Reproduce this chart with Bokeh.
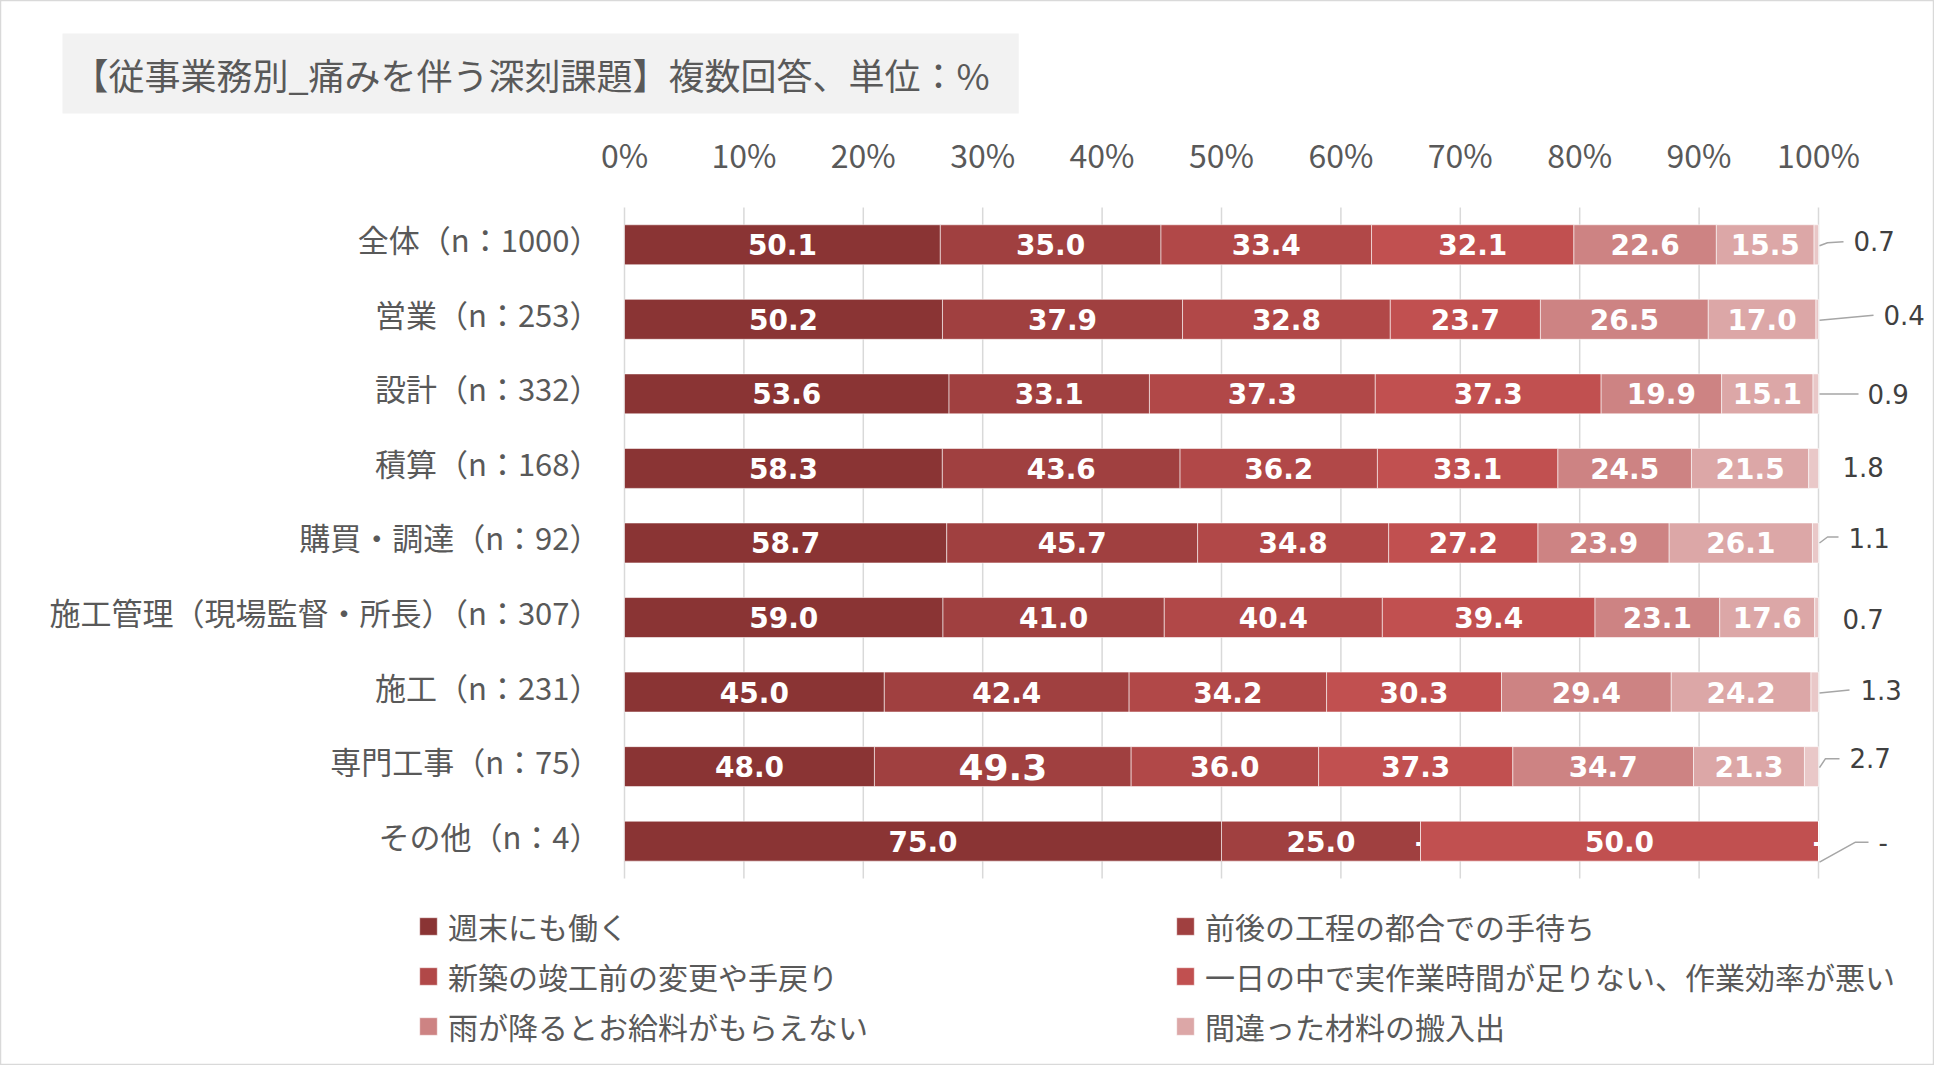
from bokeh.plotting import figure
from bokeh.models import (Range1d, Legend, LegendItem, Label, ColumnDataSource)
from bokeh.core.properties import value
from bokeh.embed import file_html
from bokeh.resources import INLINE

# ---------------- data ----------------
categories = ["全体（n：1000）", "営業（n：253）", "設計（n：332）", "積算（n：168）",
              "購買・調達（n：92）", "施工管理（現場監督・所長）（n：307）",
              "施工（n：231）", "専門工事（n：75）", "その他（n：4）"]
series_names = ["週末にも働く", "前後の工程の都合での手待ち", "新築の竣工前の変更や手戻り",
                "一日の中で実作業時間が足りない、作業効率が悪い",
                "雨が降るとお給料がもらえない", "間違った材料の搬入出", "その他"]
s1 = [50.1, 50.2, 53.6, 58.3, 58.7, 59.0, 45.0, 48.0, 75.0]
s2 = [35.0, 37.9, 33.1, 43.6, 45.7, 41.0, 42.4, 49.3, 25.0]
s3 = [33.4, 32.8, 37.3, 36.2, 34.8, 40.4, 34.2, 36.0, 0.0]
s4 = [32.1, 23.7, 37.3, 33.1, 27.2, 39.4, 30.3, 37.3, 50.0]
s5 = [22.6, 26.5, 19.9, 24.5, 23.9, 23.1, 29.4, 34.7, 0.0]
s6 = [15.5, 17.0, 15.1, 21.5, 26.1, 17.6, 24.2, 21.3, 0.0]
s7 = [0.7, 0.4, 0.9, 1.8, 1.1, 0.7, 1.3, 2.7, 0.0]
series = [s1, s2, s3, s4, s5, s6, s7]
x_ticks = [i / 10 for i in range(11)]
tick_labels = [f"{i * 10}%" for i in range(11)]
title_text = "【従事業務別_痛みを伴う深刻課題】複数回答、単位：%"

# ---------------- style ----------------
colors = ["#8A3434", "#A04040", "#B14848", "#C15050", "#CD8383", "#DCA7A7", "#E9C8C8"]
CJK = "Noto Sans CJK JP"
NUM = "DejaVu Sans"
GREY_TXT = "#595959"
big_labels = {(7, 1): "36px"}            # (row, series) label shown larger
out_dx = [35, 65, 49, 24, 30, 24, 42, 31, 60]   # px offsets of outside labels
out_dy = [-4, -4, 0, -1, -5, 1, -2, -9, 1]
leaders = [[(1, 1), (9, -2), (25, -3)], [(1, 1), (55, -4)], [(1, 0), (40, 0)], None,
           [(1, 0), (9, -6), (20, -6)], None, [(1, 1), (31, -2)],
           [(1, 1), (7, -8), (21, -8)], [(1, 21), (37, 1), (50, 1)]]

W, H = 1934, 1065
X0_PX = 624          # pixel of 0%
PX_UNIT = 1194       # pixels for 100%
Y0_PX = 207          # pixel of top of first row band
ROW_PX = 74.55       # pixels per row band
n = len(categories)

x_range = Range1d(-X0_PX / PX_UNIT, (W - X0_PX) / PX_UNIT)
y_range = Range1d((H - Y0_PX) / ROW_PX, -Y0_PX / ROW_PX)   # inverted: row 0 on top

p = figure(width=W, height=H, x_range=x_range, y_range=y_range,
           x_axis_location=None, y_axis_location=None, toolbar_location=None,
           output_backend="svg", min_border=0, title=None)
p.grid.visible = False
p.outline_line_color = "#D9D9D9"
p.outline_line_width = 1.5
p.background_fill_color = "white"
p.border_fill_color = "white"

# vertical gridlines at each tick
p.segment(x0=x_ticks, x1=x_ticks, y0=[0] * len(x_ticks), y1=[n] * len(x_ticks),
          line_color="#D9D9D9", line_width=1.5)
# tick labels (top)
p.text(x=x_ticks, y=[0] * len(x_ticks), text=tick_labels, y_offset=-54,
       text_font=value(CJK), text_font_size="32px", text_color=GREY_TXT,
       text_align="center", text_baseline="middle")

ycenters = [i + 0.5 for i in range(n)]
# category labels (left)
p.text(x=[0] * n, y=ycenters, text=categories, x_offset=-24, y_offset=-6,
       text_font=value(CJK), text_font_size="31px", text_color=GREY_TXT,
       text_align="right", text_baseline="middle")

totals = [sum(s[i] for s in series) for i in range(n)]
cum = [0.0] * n
renderers = []
for k, s in enumerate(series):
    left = [cum[i] / totals[i] for i in range(n)]
    right = [(cum[i] + s[i]) / totals[i] for i in range(n)]
    cum = [cum[i] + s[i] for i in range(n)]
    src = ColumnDataSource(dict(y=ycenters, left=left, right=right,
                                mid=[(a + b) / 2 for a, b in zip(left, right)],
                                txt=["-" if v == 0 else f"{v:.1f}" for v in s],
                                size=[big_labels.get((i, k), "28px") for i in range(n)]))
    r = p.hbar(y="y", left="left", right="right", height=0.536, source=src,
               fill_color=colors[k], line_color="white", line_width=0.8, line_alpha=0.7)
    renderers.append(r)
    if k < 6:
        p.text(x="mid", y="y", text="txt", source=src, text_color="white",
               text_font=value(NUM), text_font_style="bold", text_font_size="size",
               text_align="center", text_baseline="middle")
    else:
        src.data["xo"] = out_dx
        src.data["yo"] = out_dy
        src.data["one"] = right
        p.text(x="one", y="y", text="txt", source=src, x_offset="xo", y_offset="yo",
               text_color="#404040", text_font=value(NUM), text_font_size="26px",
               text_align="left", text_baseline="middle")
        xs, ys = [], []
        for i, pts in enumerate(leaders):
            if pts is None:
                continue
            xs.append([right[i] + dx / PX_UNIT for dx, dy in pts])
            ys.append([ycenters[i] + dy / ROW_PX for dx, dy in pts])
        p.multi_line(xs=xs, ys=ys, line_color="#A6A6A6", line_width=1.5)

# legends (two columns)
def make_legend(idx, x):
    leg = Legend(items=[LegendItem(label=series_names[j], renderers=[renderers[j]]) for j in idx],
                 location=(x, 17), orientation="vertical")
    leg.glyph_width = 22
    leg.glyph_height = 22
    leg.label_standoff = 9
    leg.spacing = 6
    leg.label_height = 36
    leg.padding = 0
    leg.margin = 0
    leg.border_line_color = None
    leg.background_fill_alpha = 0
    leg.label_text_font = CJK
    leg.label_text_font_size = "30px"
    leg.label_text_color = GREY_TXT
    return leg

p.add_layout(make_legend([0, 2, 4], 417), "center")
p.add_layout(make_legend([1, 3, 5], 1174), "center")

title = Label(x=62, y=H - 73, x_units="screen", y_units="screen", text=title_text,
              text_font=CJK, text_font_size="36px", text_color=GREY_TXT,
              text_baseline="middle", background_fill_color="#F2F2F2",
              padding=(10, 29, 14, 14))
p.add_layout(title)

open("out.html", "w").write(file_html(p, INLINE))
